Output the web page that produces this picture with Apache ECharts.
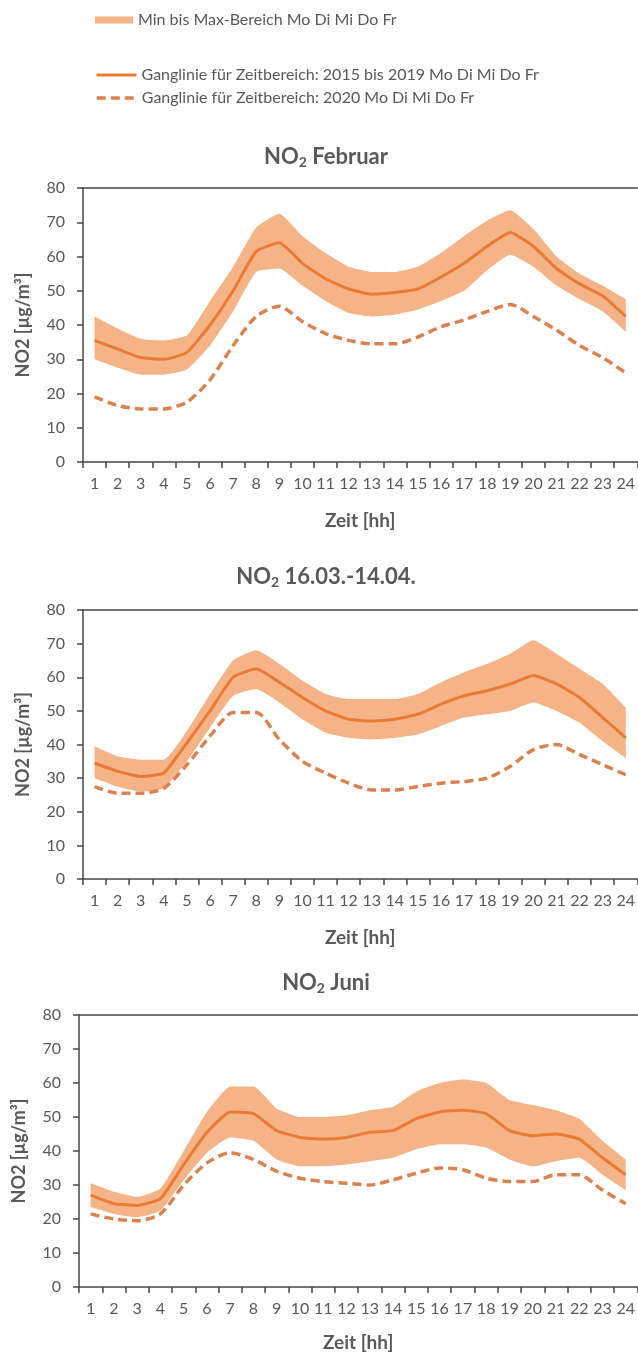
<!DOCTYPE html>
<html>
<head>
<meta charset="utf-8">
<script src="https://cdn.jsdelivr.net/npm/echarts@6/dist/echarts.min.js"></script>
<style>
  html, body { margin: 0; padding: 0; background: #fff; }
  #chart { width: 638px; height: 1355px; }
</style>
</head>
<body>
<div id="chart"></div>
<script>
// Stunden 1..24
const hours = ['1','2','3','4','5','6','7','8','9','10','11','12','13','14','15','16','17','18','19','20','21','22','23','24']

const bandName = 'Min bis Max-Bereich Mo Di Mi Do Fr'
const meanName = 'Ganglinie für Zeitbereich: 2015 bis 2019 Mo Di Mi Do Fr'
const yearName = 'Ganglinie für Zeitbereich: 2020 Mo Di Mi Do Fr'

// NO2 Februar
const febMin  = [30, 27.5, 25.5, 25.5, 27, 34, 44, 55.5, 56.5, 51.5, 47, 43.5, 42.5, 43, 44.5, 47, 50, 56, 60.5, 57, 51.5, 47.5, 44, 38]
const febMax  = [42.5, 39, 36, 35.5, 37, 47, 57, 68.5, 72.5, 66, 61, 57, 55.5, 55.5, 57, 61, 66, 70.5, 73.5, 68, 60, 55, 51.5, 47.5]
const febMean = [35.5, 33, 30.5, 30, 32, 40, 50, 61.5, 64, 58, 53.5, 50.5, 49, 49.5, 50.5, 54, 58, 63, 67, 63, 56.5, 52, 48.5, 42.5]
const feb2020 = [19, 16.5, 15.5, 15.5, 17.5, 24, 34, 42.5, 45.5, 41, 37.5, 35.5, 34.5, 34.5, 36.5, 39.5, 41.5, 44, 46, 42.5, 38.5, 34, 30.5, 26]

// NO2 16.03.-14.04.
const marMin  = [30, 27.5, 26, 27, 35, 45, 54.5, 56.5, 52.5, 47.5, 43.5, 42, 41.5, 42, 43, 45.5, 48, 49, 50, 52.5, 50, 46.5, 41, 36]
const marMax  = [39.5, 36.5, 35.5, 35.5, 44, 55, 65, 68, 64, 59, 55, 53.5, 53.5, 53.5, 55, 58.5, 61.5, 64, 67, 71, 67, 62.5, 58, 51]
const marMean = [34.5, 32, 30.5, 31.5, 40.5, 50, 60, 62.5, 58.5, 54, 50, 47.5, 47, 47.5, 49, 52, 54.5, 56, 58, 60.5, 58, 54, 48, 42]
const mar2020 = [27.5, 25.5, 25.5, 27, 34, 42.5, 49.5, 49.5, 41.5, 35, 31.5, 28.5, 26.5, 26.5, 27.5, 28.5, 29, 30, 33.5, 38.5, 40, 37, 34, 31]

// NO2 Juni
const junMin  = [23.5, 21.5, 20.5, 22.5, 31.5, 39.5, 44, 43, 37.5, 35.5, 35.5, 36, 37, 38, 40.5, 42, 42, 41, 37.5, 35.5, 37, 38, 33, 28.5]
const junMax  = [30.5, 28, 26.5, 29, 40, 51.5, 59, 59, 52.5, 50, 50, 50.5, 52, 53, 57.5, 60, 61, 60, 55, 53.5, 52, 49.5, 43, 37.5]
const junMean = [27, 24.5, 24, 26, 36, 45.5, 51.5, 51, 46, 44, 43.5, 44, 45.5, 46, 49.5, 51.5, 52, 51, 46, 44.5, 45, 43.5, 38, 33]
const jun2020 = [21.5, 20, 19.5, 21.5, 30, 36.5, 39.5, 37.5, 34, 32, 31, 30.5, 30, 31.5, 33.5, 35, 34.5, 32, 31, 31, 33, 33, 28.5, 24.5]

const yTicks = [0, 10, 20, 30, 40, 50, 60, 70, 80]

const panels = [
  { title: 'Februar', min: febMin, max: febMax, mean: febMean, y2020: feb2020, top: 188, height: 274, left: 83, width: 557, titleTop: 140, nameGap: 49 },
  { title: '16.03.-14.04.', min: marMin, max: marMax, mean: marMean, y2020: mar2020, top: 610, height: 269, left: 83, width: 557, titleTop: 560, nameGap: 49 },
  { title: 'Juni', min: junMin, max: junMax, mean: junMean, y2020: jun2020, top: 1015, height: 272, left: 79, width: 559, titleTop: 966, nameGap: 46 }
]

const grey = '#595959'
const axisColor = '#474747'
const bandColor = '#f5b487'
const lineColor = '#eb7a32'
const dashColor = '#d98250'
const font = 'Lato, "Open Sans", sans-serif'

const chart = echarts.init(document.getElementById('chart'))

const grid = []
const xAxis = []
const yAxis = []
const series = []
const title = []

panels.forEach((p, i) => {
  grid.push({ left: p.left, top: p.top, width: p.width, height: p.height, containLabel: false })
  title.push({
    text: '{a|NO}{s|2}{a| ' + p.title + '}',
    left: 321,
    top: p.titleTop,
    textAlign: 'center',
    textStyle: {
      rich: {
        a: { fontFamily: font, fontWeight: 'bold', fontSize: 22, color: grey },
        s: { fontFamily: font, fontWeight: 'bold', fontSize: 14, color: grey, padding: [10, 0, 0, 0] }
      }
    }
  })
  // untere Achse
  xAxis.push({
    type: 'category',
    gridIndex: i,
    data: hours,
    boundaryGap: true,
    position: 'bottom',
    name: 'Zeit [hh]',
    nameLocation: 'middle',
    nameGap: p.nameGap,
    nameTextStyle: { fontFamily: font, fontWeight: 'bold', fontSize: 19, color: grey },
    axisLine: { lineStyle: { color: axisColor, width: 1.5 } },
    axisTick: { show: true, length: 6, lineStyle: { color: axisColor, width: 1.5 } },
    axisLabel: { fontFamily: font, fontSize: 16, color: grey, margin: 14, interval: 0 }
  })
  // obere Linie bei 80
  xAxis.push({
    type: 'category',
    gridIndex: i,
    data: hours,
    position: 'top',
    axisLine: { lineStyle: { color: axisColor, width: 1.5 } },
    axisTick: { show: false },
    axisLabel: { show: false }
  })
  yAxis.push({
    type: 'value',
    gridIndex: i,
    min: yTicks[0],
    max: yTicks[yTicks.length - 1],
    interval: 10,
    name: 'NO2 [µg/m³]',
    nameLocation: 'middle',
    nameGap: 51,
    nameRotate: 90,
    nameTextStyle: { fontFamily: font, fontWeight: 'bold', fontSize: 18, color: grey },
    axisLine: { show: true, lineStyle: { color: axisColor, width: 1.5 } },
    axisTick: { show: true, length: 6, lineStyle: { color: axisColor, width: 1.5 } },
    axisLabel: { fontFamily: font, fontSize: 16, color: grey, margin: 18 },
    splitLine: { show: false }
  })

  const stack = 'band' + i
  series.push({
    name: 'min' + i,
    type: 'line',
    xAxisIndex: i * 2,
    yAxisIndex: i,
    stack: stack,
    data: p.min,
    symbol: 'none',
    smooth: 0.15,
    lineStyle: { opacity: 0 },
    silent: true,
    z: 1
  })
  series.push({
    name: bandName,
    type: 'line',
    xAxisIndex: i * 2,
    yAxisIndex: i,
    stack: stack,
    data: p.max.map((v, k) => +(v - p.min[k]).toFixed(2)),
    symbol: 'none',
    smooth: 0.15,
    lineStyle: { opacity: 0 },
    areaStyle: { color: bandColor, opacity: 1 },
    itemStyle: { color: bandColor },
    z: 1
  })
  series.push({
    name: meanName,
    type: 'line',
    xAxisIndex: i * 2,
    yAxisIndex: i,
    data: p.mean,
    symbol: 'none',
    smooth: 0.15,
    lineStyle: { color: lineColor, width: 3 },
    itemStyle: { color: lineColor },
    z: 3
  })
  series.push({
    name: yearName,
    type: 'line',
    xAxisIndex: i * 2,
    yAxisIndex: i,
    data: p.y2020,
    symbol: 'none',
    smooth: 0.25,
    lineStyle: { color: dashColor, width: 3.5, type: [9, 5] },
    itemStyle: { color: dashColor },
    z: 4
  })
})

const legendText = { fontFamily: font, fontSize: 16, color: grey }

const option = {
  animation: false,
  title: title,
  legend: [
    {
      left: 95, top: 12, padding: 0, itemWidth: 38, itemHeight: 7,
      textStyle: legendText, selectedMode: false,
      data: [{ name: bandName, icon: 'rect', itemStyle: { color: bandColor } }]
    },
    {
      left: 95, top: 67, padding: 0, itemWidth: 40, itemHeight: 14,
      textStyle: legendText, selectedMode: false,
      data: [{ name: meanName, itemStyle: { opacity: 0 }, lineStyle: { width: 3, color: lineColor } }]
    },
    {
      left: 95, top: 90, padding: 0, itemWidth: 40, itemHeight: 14,
      textStyle: legendText, selectedMode: false,
      data: [{ name: yearName, itemStyle: { opacity: 0 }, lineStyle: { width: 3.5, color: dashColor, type: [9, 5] } }]
    }
  ],
  grid: grid,
  xAxis: xAxis,
  yAxis: yAxis,
  series: series
}

chart.setOption(option)
</script>
</body>
</html>
